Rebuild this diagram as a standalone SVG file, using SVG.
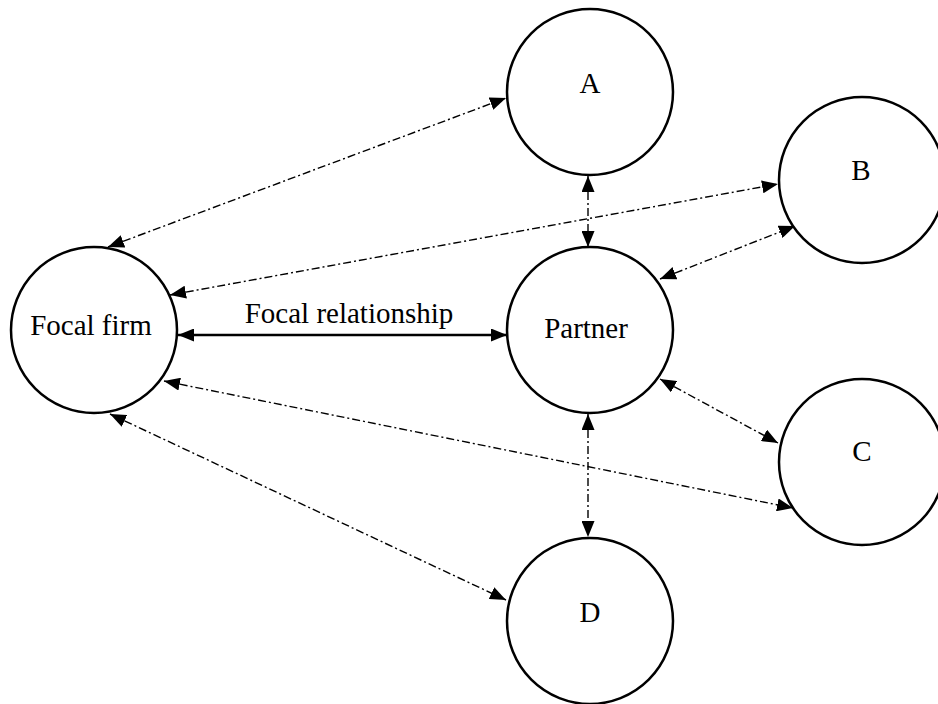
<svg xmlns="http://www.w3.org/2000/svg" width="938" height="704" viewBox="0 0 938 704">
<style>
.node{fill:#fff;stroke:#000;stroke-width:2.5}
.lbl{font-family:"Liberation Serif","Times New Roman",serif;font-size:29px;fill:#000;text-anchor:middle}
.dd{fill:none;stroke:#000;stroke-width:1.4;stroke-dasharray:8 3 2 3}
.solid{fill:none;stroke:#000;stroke-width:2.6}
</style>
<defs>
<marker id="ah" viewBox="0 0 16 13" refX="16" refY="6.5" markerWidth="16" markerHeight="13" markerUnits="userSpaceOnUse" orient="auto-start-reverse">
<path d="M0,0 L16,6.5 L0,13 Z" fill="#000"/>
</marker>
</defs>
<rect width="938" height="704" fill="#fff"/>
<g id="connectors">
<line class="dd" x1="108" y1="247" x2="506" y2="98" marker-start="url(#ah)" marker-end="url(#ah)"/>
<line class="dd" x1="170" y1="295" x2="778" y2="184" marker-start="url(#ah)" marker-end="url(#ah)"/>
<line class="dd" x1="164" y1="381" x2="793" y2="508" marker-start="url(#ah)" marker-end="url(#ah)"/>
<line class="dd" x1="110" y1="414" x2="506" y2="600" marker-start="url(#ah)" marker-end="url(#ah)"/>
<line class="dd" x1="588" y1="176" x2="588" y2="247" marker-start="url(#ah)" marker-end="url(#ah)"/>
<line class="dd" x1="660" y1="279" x2="795" y2="226" marker-start="url(#ah)" marker-end="url(#ah)"/>
<line class="dd" x1="660" y1="379" x2="778" y2="443" marker-start="url(#ah)" marker-end="url(#ah)"/>
<line class="dd" x1="588" y1="414" x2="588" y2="537" marker-start="url(#ah)" marker-end="url(#ah)"/>
<line class="solid" x1="178" y1="335" x2="507" y2="335" marker-start="url(#ah)" marker-end="url(#ah)"/>
<text class="lbl" x="349" y="323">Focal relationship</text>
</g>
<g id="focal-firm"><circle class="node" cx="94" cy="330" r="83"/><text class="lbl" x="91" y="335">Focal firm</text></g>
<g id="node-a"><circle class="node" cx="590" cy="92" r="83"/><text class="lbl" x="590" y="93">A</text></g>
<g id="node-b"><circle class="node" cx="862" cy="180" r="83"/><text class="lbl" x="861" y="180">B</text></g>
<g id="partner"><circle class="node" cx="590" cy="330" r="83"/><text class="lbl" x="586" y="338">Partner</text></g>
<g id="node-c"><circle class="node" cx="862" cy="462" r="83"/><text class="lbl" x="862" y="461">C</text></g>
<g id="node-d"><circle class="node" cx="590" cy="621" r="83"/><text class="lbl" x="590" y="622">D</text></g>
</svg>
